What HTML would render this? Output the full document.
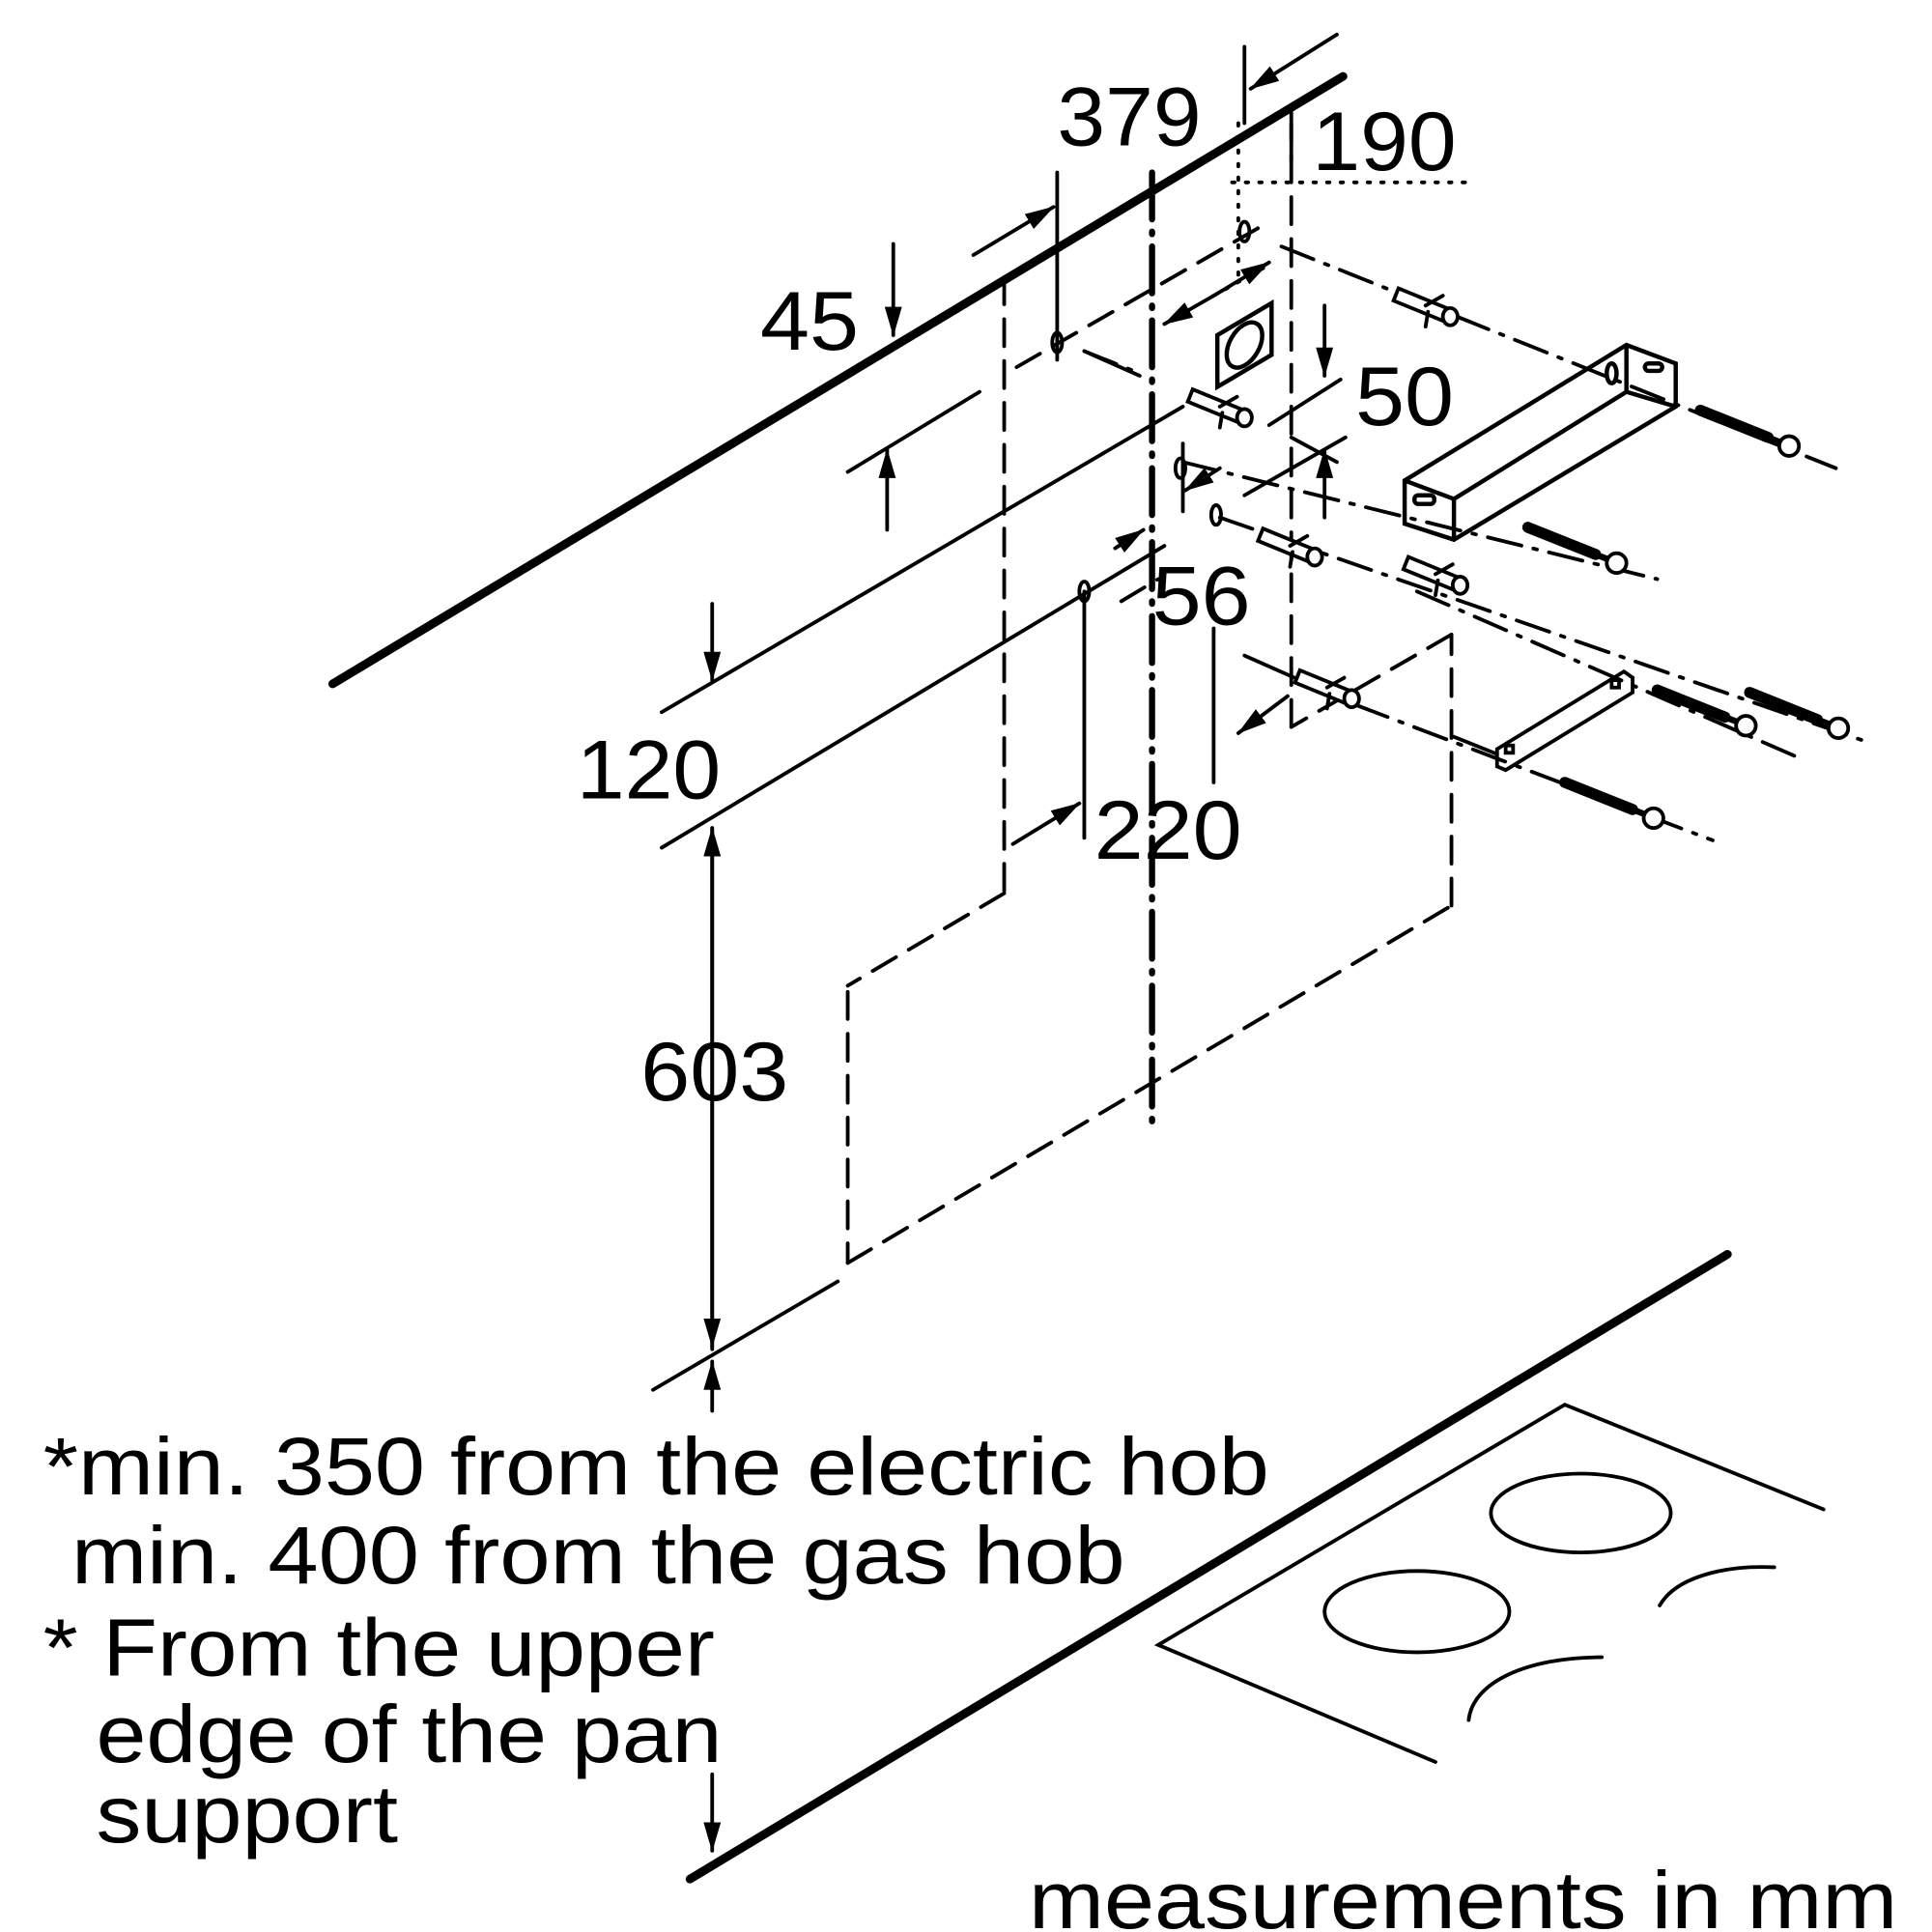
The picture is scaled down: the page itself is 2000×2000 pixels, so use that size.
<!DOCTYPE html>
<html><head><meta charset="utf-8"><style>
html,body{margin:0;padding:0;background:#fff}
svg{display:block}
text{font-family:"Liberation Sans",Arial,sans-serif;fill:#000}
</style></head><body>
<svg width="2000" height="2000" viewBox="0 0 1568 1568" xmlns="http://www.w3.org/2000/svg">
<defs>
<marker id="a" markerWidth="24" markerHeight="14" refX="23" refY="7" orient="auto" markerUnits="userSpaceOnUse" viewBox="0 0 24 14">
<path d="M0,0 L24,7 L0,14 z" fill="#000"/></marker>
<g id="scr">
<line x1="0" y1="0" x2="55" y2="22" stroke-width="9"/>
<line x1="55" y1="22" x2="68" y2="27" stroke-width="5"/>
<circle cx="72" cy="29" r="8" fill="#fff" stroke-width="3"/>
</g>
<g id="plug">
<path d="M0,-6 L44,12 L40,22 L-4,4 z" fill="#fff" stroke-width="3"/>
<ellipse cx="42" cy="17" rx="6" ry="7" fill="#fff" stroke-width="3"/>
<path d="M22,8 l14,-8 M24,13 l-2,12" stroke-width="3"/>
</g>
</defs>
<g stroke="#000" fill="none" stroke-linecap="round">
<line x1="270" y1="555" x2="1090" y2="62" stroke-width="7"/>
<line x1="560" y1="1525" x2="1402" y2="1018" stroke-width="7"/>
<g stroke-width="3">
<polyline points="1480,1225 1270,1140 940,1335 1165,1430"/>
<ellipse cx="1283" cy="1228" rx="73" ry="32"/>
<ellipse cx="1150" cy="1308" rx="75" ry="33"/>
<path d="M1347,1303 C1360,1280 1400,1270 1440,1272"/>
<path d="M1192,1396 C1195,1365 1240,1345 1300,1345"/>
</g>
<g stroke-width="3" stroke-dasharray="22,12">
<line x1="815" y1="225" x2="815" y2="725"/>
<line x1="815" y1="725" x2="688" y2="800"/>
<line x1="688" y1="805" x2="688" y2="1025"/>
<line x1="688" y1="1025" x2="1178" y2="735"/>
<line x1="1178" y1="735" x2="1178" y2="515"/>
<line x1="1178" y1="515" x2="1048" y2="590"/>
<line x1="1048" y1="590" x2="1048" y2="100"/>
<line x1="825" y1="298" x2="1030" y2="180"/>
<line x1="910" y1="488" x2="940" y2="470"/>
</g>
<line x1="935" y1="140" x2="935" y2="920" stroke-width="5" stroke-dasharray="38,10,2,10"/>
<g stroke-width="3" stroke-dasharray="2,9">
<line x1="1000" y1="148" x2="1190" y2="148"/>
<line x1="1005" y1="100" x2="1005" y2="230"/>
<line x1="985" y1="240" x2="1030" y2="215"/>
</g>
<g stroke-width="3" stroke-dasharray="28,10,3,10">
<line x1="1040" y1="200" x2="1490" y2="380"/>
<line x1="880" y1="285" x2="925" y2="303"/>
<line x1="960" y1="375" x2="1345" y2="470"/>
<line x1="990" y1="420" x2="1515" y2="602"/>
<line x1="1100" y1="572" x2="1390" y2="682"/>
<line x1="1150" y1="480" x2="1460" y2="615"/>
</g>
<g stroke-width="3">
<line x1="858" y1="140" x2="858" y2="292"/>
<line x1="790" y1="207" x2="855" y2="168" marker-end="url(#a)"/>
<line x1="1010" y1="38" x2="1010" y2="100"/>
<line x1="1085" y1="28" x2="1015" y2="72" marker-end="url(#a)"/>
<line x1="1048" y1="88" x2="1048" y2="130"/>
<line x1="725" y1="198" x2="725" y2="272" marker-end="url(#a)"/>
<line x1="720" y1="430" x2="720" y2="365" marker-end="url(#a)"/>
<line x1="688" y1="383" x2="795" y2="318"/>
<line x1="537" y1="578" x2="960" y2="330"/>
<line x1="1030" y1="345" x2="1088" y2="308"/>
<line x1="537" y1="688" x2="945" y2="443"/>
<line x1="1075" y1="248" x2="1075" y2="305" marker-end="url(#a)"/>
<line x1="1075" y1="420" x2="1075" y2="365" marker-end="url(#a)"/>
<line x1="1010" y1="402" x2="1092" y2="355"/>
<line x1="1048" y1="355" x2="1085" y2="375"/>
<line x1="578" y1="490" x2="578" y2="552" marker-end="url(#a)"/>
<line x1="578" y1="1095" x2="578" y2="672" marker-end="url(#a)"/>
<line x1="578" y1="672" x2="578" y2="1093" marker-end="url(#a)"/>
<line x1="530" y1="1128" x2="680" y2="1040"/>
<line x1="578" y1="1145" x2="578" y2="1105" marker-end="url(#a)"/>
<line x1="578" y1="1440" x2="578" y2="1502" marker-end="url(#a)"/>
<line x1="880" y1="480" x2="880" y2="680"/>
<line x1="822" y1="685" x2="876" y2="652" marker-end="url(#a)"/>
<line x1="985" y1="510" x2="985" y2="635"/>
<line x1="1045" y1="565" x2="1005" y2="595" marker-end="url(#a)"/>
<line x1="1010" y1="532" x2="1100" y2="572"/>
<line x1="960" y1="360" x2="960" y2="415"/>
<line x1="990" y1="380" x2="962" y2="398" marker-end="url(#a)"/>
<line x1="905" y1="445" x2="928" y2="430" marker-end="url(#a)"/>
<line x1="985" y1="240" x2="1030" y2="213" marker-end="url(#a)"/>
<line x1="985" y1="240" x2="945" y2="263" marker-end="url(#a)"/>
<line x1="880" y1="285" x2="925" y2="305"/>
</g>
<g stroke-width="3">
<ellipse cx="858" cy="278" rx="4" ry="8"/>
<ellipse cx="1010" cy="188" rx="4" ry="8"/>
<ellipse cx="958" cy="380" rx="4" ry="8"/>
<ellipse cx="987" cy="418" rx="4" ry="8"/>
<ellipse cx="880" cy="480" rx="4" ry="8"/>
</g>
<g stroke-width="3.5">
<polygon points="988,272 1032,246 1032,288 988,314"/>
<ellipse cx="1010" cy="280" rx="12" ry="20" transform="rotate(30 1010 280)"/>
</g>
<use href="#plug" x="1135" y="240"/>
<use href="#plug" x="968" y="322"/>
<use href="#plug" x="1025" y="435"/>
<use href="#plug" x="1143" y="458"/>
<use href="#plug" x="1055" y="550"/>
<use href="#scr" x="1380" y="333"/>
<use href="#scr" x="1240" y="428"/>
<use href="#scr" x="1345" y="560"/>
<use href="#scr" x="1420" y="562"/>
<use href="#scr" x="1270" y="635"/>
<g stroke-width="3.5">
<polygon points="1140,390 1320,280 1360,295 1360,330 1180,438 1140,425"/>
<line x1="1180" y1="405" x2="1180" y2="438"/>
<line x1="1140" y1="390" x2="1180" y2="405"/>
<line x1="1180" y1="405" x2="1320" y2="318"/>
<line x1="1320" y1="280" x2="1320" y2="318"/>
<line x1="1320" y1="318" x2="1360" y2="330"/>
<rect x="1148" y="402" width="16" height="7" rx="3"/>
<ellipse cx="1308" cy="303" rx="4" ry="8"/>
<rect x="1335" y="295" width="14" height="6" rx="3"/>
</g>
<g stroke-width="3">
<polygon points="1215,608 1318,545 1325,550 1325,562 1222,625 1215,622"/>
<rect x="1222" y="605" width="6" height="6"/>
<rect x="1308" y="552" width="6" height="6"/>
<line x1="1180" y1="598" x2="1215" y2="612"/>
</g>
</g>
<g font-size="68">
<text x="858" y="118" textLength="117" lengthAdjust="spacingAndGlyphs">379</text>
<text x="1065" y="138" textLength="117" lengthAdjust="spacingAndGlyphs">190</text>
<text x="617" y="284" textLength="80" lengthAdjust="spacingAndGlyphs">45</text>
<text x="1100" y="345" textLength="80" lengthAdjust="spacingAndGlyphs">50</text>
<text x="935" y="507" textLength="80" lengthAdjust="spacingAndGlyphs">56</text>
<text x="468" y="648" textLength="117" lengthAdjust="spacingAndGlyphs">120</text>
<text x="888" y="697" textLength="120" lengthAdjust="spacingAndGlyphs">220</text>
<text x="520" y="893" textLength="120" lengthAdjust="spacingAndGlyphs">603</text>
</g>
<g font-size="66">
<text x="35" y="1213" textLength="995" lengthAdjust="spacingAndGlyphs">*min. 350 from the electric hob</text>
<text x="58" y="1285" textLength="855" lengthAdjust="spacingAndGlyphs">min. 400 from the gas hob</text>
<text x="35" y="1360" textLength="545" lengthAdjust="spacingAndGlyphs">* From the upper</text>
<text x="78" y="1430" textLength="508" lengthAdjust="spacingAndGlyphs">edge of the pan</text>
<text x="78" y="1495" textLength="245" lengthAdjust="spacingAndGlyphs">support</text>
<text x="835" y="1565" textLength="705" lengthAdjust="spacingAndGlyphs">measurements in mm</text>
</g>
</svg>
</body></html>
